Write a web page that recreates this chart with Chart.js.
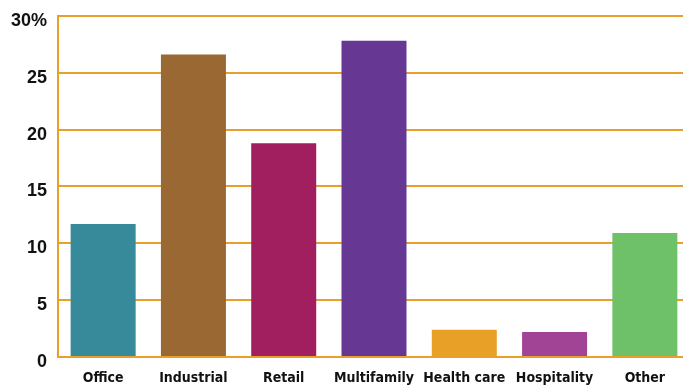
<!DOCTYPE html>
<html>
<head>
<meta charset="utf-8">
<script src="https://cdn.jsdelivr.net/npm/chart.js@4"></script>
<style>
  html, body { margin: 0; padding: 0; background: #fff; overflow: hidden; }
  #wrap { position: relative; width: 690px; height: 391px; margin-top: -6px; }
</style>
</head>
<body>
<div id="wrap"><canvas id="myChart"></canvas></div>
<script>
const categories = ['Office', 'Industrial', 'Retail', 'Multifamily', 'Health care', 'Hospitality', 'Other'];
const shareValues = [11.7, 26.6, 18.8, 27.8, 2.4, 2.2, 10.9];
const barColors = ['#378a9a', '#9a6832', '#a11f5e', '#663793', '#e8a027', '#a24495', '#6fc169'];
const yTicks = [0, 5, 10, 15, 20, 25, 30];

const gridOrange = '#e8a02a';

const ctx = document.getElementById('myChart').getContext('2d');
const myChart = new Chart(ctx, {
    type: 'bar',
    data: {
        labels: categories,
        datasets: [{
            data: shareValues,
            backgroundColor: barColors,
            borderWidth: 0,
            barPercentage: 0.72,
            categoryPercentage: 1.0
        }]
    },
    options: {
        responsive: true,
        maintainAspectRatio: false,
        animation: false,
        layout: { padding: { top: 1, right: 0, bottom: 0, left: 0 } },
        plugins: {
            legend: { display: false },
            tooltip: { enabled: false }
        },
        scales: {
            x: {
                grid: { display: false },
                border: { display: false },
                ticks: {
                    color: '#111',
                    padding: 5,
                    maxRotation: 0,
                    autoSkip: false,
                    font: { family: '"DejaVu Sans Condensed", "Liberation Sans", sans-serif', weight: 'bold', size: 14 }
                },
                afterFit: function(scale) { scale.height = 28; }
            },
            y: {
                min: 0,
                max: 30,
                afterBuildTicks: function(scale) {
                    scale.ticks = yTicks.map(v => ({ value: v }));
                },
                grid: {
                    color: gridOrange,
                    lineWidth: 2,
                    drawTicks: false
                },
                border: { display: true, color: gridOrange, width: 2 },
                ticks: {
                    color: '#111',
                    padding: 11,
                    labelOffset: 5,
                    font: { family: '"Liberation Sans", Arial, sans-serif', weight: 'bold', size: 18 },
                    callback: function(value) { return value === 30 ? '30%' : value; }
                },
                afterFit: function(scale) { scale.width = 58; }
            }
        }
    }
});
</script>
</body>
</html>
